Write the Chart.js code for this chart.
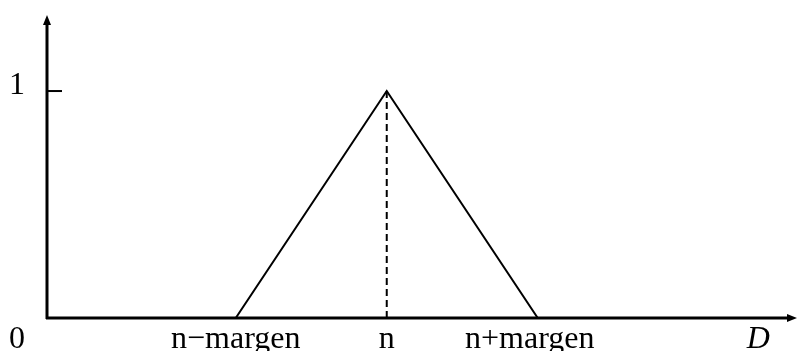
<!DOCTYPE html>
<html>
<head>
<meta charset="utf-8">
<script src="https://cdn.jsdelivr.net/npm/chart.js@4"></script>
<style>
  html, body { margin: 0; padding: 0; background: #fff; }
  #wrap { width: 797px; height: 351px; position: relative; }
</style>
</head>
<body>
<div id="wrap"><canvas id="c"></canvas></div>
<script>
// positions on the D axis (margen = 1)
const tickValues = [1.25, 2.25, 3.25];
const tickLabels = ['n\u2212margen', 'n', 'n+margen'];
const membership = [0, 1, 0];
const peakX = [2.25, 2.25];
const peakY = [0, 1];
const yTickValues = [1];
const yTickLabels = ['1'];
const axisName = 'D';
const axisNameX = 4.71;
const xMax = 4.967;
const yMax = 1.335;

const FONT = '32px "Liberation Serif", "DejaVu Serif", serif';
// pequeño ajuste horizontal de las etiquetas
const labelShift = [0, 0, -8];

// ejes con flechas, marcas y etiquetas
const axesPlugin = {
    id: 'axesPlugin',
    afterDraw(chart) {
        const ctx = chart.ctx;
        const xs = chart.scales.x;
        const ys = chart.scales.y;
        const x0 = xs.getPixelForValue(0);
        const y0 = ys.getPixelForValue(0);
        const xEnd = xs.getPixelForValue(xMax);
        const yTop = ys.getPixelForValue(yMax);

        ctx.save();
        ctx.strokeStyle = '#000';
        ctx.fillStyle = '#000';
        ctx.lineWidth = 3;
        ctx.beginPath();
        ctx.moveTo(x0, y0 + 1);
        ctx.lineTo(x0, yTop + 6);
        ctx.moveTo(x0 - 1, y0);
        ctx.lineTo(xEnd - 6, y0);
        ctx.stroke();

        // flechas
        ctx.beginPath();
        ctx.moveTo(x0, yTop);
        ctx.lineTo(x0 - 4, yTop + 10);
        ctx.lineTo(x0 + 4, yTop + 10);
        ctx.closePath();
        ctx.fill();
        ctx.beginPath();
        ctx.moveTo(xEnd, y0);
        ctx.lineTo(xEnd - 10, y0 - 4);
        ctx.lineTo(xEnd - 10, y0 + 4);
        ctx.closePath();
        ctx.fill();

        // marca del 1
        ctx.lineWidth = 2;
        yTickValues.forEach(v => {
            const py = ys.getPixelForValue(v);
            ctx.beginPath();
            ctx.moveTo(x0, py);
            ctx.lineTo(x0 + 15, py);
            ctx.stroke();
        });

        ctx.font = FONT;
        ctx.textAlign = 'center';
        ctx.textBaseline = 'alphabetic';
        yTickLabels.forEach((t, i) => {
            const py = ys.getPixelForValue(yTickValues[i]);
            ctx.fillText(t, 17, py + 3);
        });
        ctx.fillText('0', 17, y0 + 30);
        tickLabels.forEach((t, i) => {
            ctx.fillText(t, xs.getPixelForValue(tickValues[i]) + labelShift[i], y0 + 30);
        });
        ctx.font = 'italic ' + FONT;
        ctx.fillText(axisName, xs.getPixelForValue(axisNameX), y0 + 30);
        ctx.restore();
    }
};

new Chart(document.getElementById('c'), {
    type: 'scatter',
    data: {
        datasets: [
            {
                data: tickValues.map((x, i) => ({ x: x, y: membership[i] })),
                showLine: true,
                borderColor: '#000',
                borderWidth: 2,
                pointRadius: 0,
                tension: 0
            },
            {
                data: peakX.map((x, i) => ({ x: x, y: peakY[i] })),
                showLine: true,
                borderColor: '#000',
                borderWidth: 2,
                borderDash: [7, 4],
                pointRadius: 0
            }
        ]
    },
    options: {
        responsive: true,
        maintainAspectRatio: false,
        animation: false,
        layout: { padding: { left: 47, right: 0, top: 15, bottom: 33 } },
        scales: {
            x: { type: 'linear', min: 0, max: xMax, display: false },
            y: { type: 'linear', min: 0, max: yMax, display: false }
        },
        plugins: {
            legend: { display: false },
            tooltip: { enabled: false }
        }
    },
    plugins: [axesPlugin]
});
</script>
</body>
</html>
